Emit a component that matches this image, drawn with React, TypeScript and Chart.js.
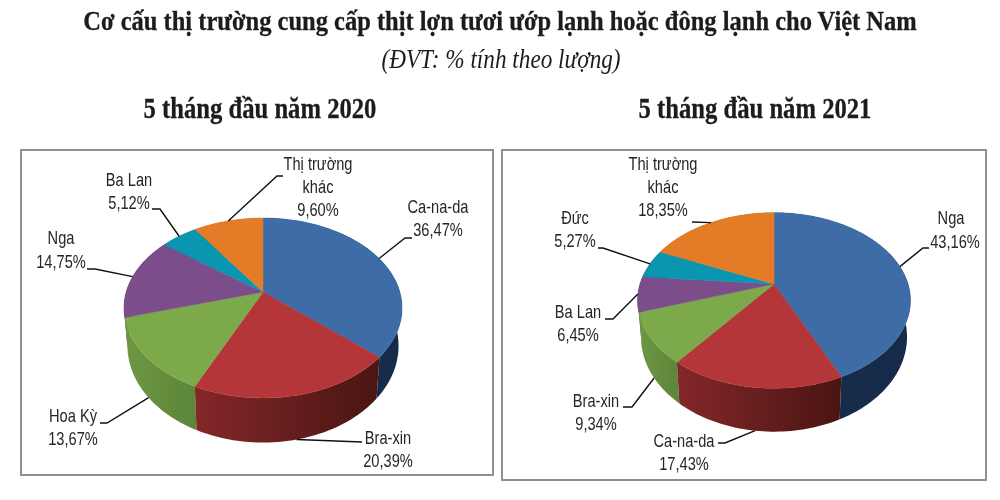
import React, { useEffect, useRef } from "react";
import { Chart, registerables } from "chart.js";

Chart.register(...registerables);

const TITLE = "Cơ cấu thị trường cung cấp thịt lợn tươi ướp lạnh hoặc đông lạnh cho Việt Nam";
const SUBTITLE = "(ĐVT: % tính theo lượng)";
const LEFT_TITLE = "5 tháng đầu năm 2020";
const RIGHT_TITLE = "5 tháng đầu năm 2021";

const categories2020 = ["Ca-na-da", "Bra-xin", "Hoa Kỳ", "Nga", "Ba Lan", "Thị trường\nkhác"];
const values2020 = [36.47, 20.39, 13.67, 14.75, 5.12, 9.6];
const categories2021 = ["Nga", "Ca-na-da", "Bra-xin", "Ba Lan", "Đức", "Thị trường\nkhác"];
const values2021 = [43.16, 17.43, 9.34, 6.45, 5.27, 18.35];

const topColors = ["#3e6ca6", "#b43639", "#7ca94a", "#7b4e8b", "#0a95b1", "#e47c27"];
const wallColors = [
  ["#162d4c", "#162b49"],
  ["#842729", "#491512"],
  ["#6e9743", "#5c8639"],
  ["#4c2f58", "#4c2f58"],
  ["#055d70", "#055d70"],
  ["#91501a", "#91501a"],
];

type Geo = { ox: number; oy: number; w: number; h: number; cx: number; cy: number; a: number; b: number; k: number; depth: number };
type Lab = { lines: [number, number][]; knee: [number, number][] };

const geo2020: Geo = { ox: 20, oy: 149, w: 474, h: 327, cx: 263, cy: 292, a: 87.1, b: 136.8, k: 0.178, depth: 36.6 };
const geo2021: Geo = { ox: 501, oy: 149, w: 486, h: 332, cx: 774, cy: 284, a: 84.7, b: 134, k: 0.188, depth: 35.2 };
const BOTTOM_TAPER = 0.975;
const TEXT_SQUEEZE = 0.77;

const layout2020: Lab[] = [
  { lines: [[438, 208], [438, 231]], knee: [[405, 238], [412, 238]] },
  { lines: [[388, 439], [388, 462]], knee: [[362, 442]] },
  { lines: [[73, 417], [73, 440]], knee: [[107, 423], [100, 423]] },
  { lines: [[61, 239], [61, 263]], knee: [[95, 269], [87, 269]] },
  { lines: [[129, 181], [129, 204]], knee: [[160, 209], [152, 209]] },
  { lines: [[318, 165], [318, 188], [318, 211]], knee: [[277, 176], [283, 176]] },
];
const layout2021: Lab[] = [
  { lines: [[951, 219], [955, 243]], knee: [[923, 248], [929, 248]] },
  { lines: [[684, 442], [684, 465]], knee: [[725, 443], [718, 443]] },
  { lines: [[596, 402], [596, 425]], knee: [[632, 407], [623, 407]] },
  { lines: [[578, 313], [578, 336]], knee: [[613, 319], [605, 319]] },
  { lines: [[575, 219], [575, 242]], knee: [[603, 248], [598, 248]] },
  { lines: [[663, 165], [663, 188], [663, 211]], knee: [[692, 222]] },
];

const fmt = (v: number) => v.toFixed(2).replace(".", ",") + "%";

function pie3d(geo: Geo, labels: string[], values: number[], layout: Lab[]) {
  const den = (ang: number) => 1 - geo.k * Math.sin(ang);
  const px = (ang: number) => geo.cx + (geo.b * Math.cos(ang)) / den(ang);
  const py = (ang: number) => geo.cy + (geo.a * Math.sin(ang)) / den(ang);
  const bx = (ang: number) => geo.cx + (px(ang) - geo.cx) * BOTTOM_TAPER;
  const by = (ang: number) => py(ang) + geo.depth / den(ang);
  return {
    id: "pie3d",
    beforeDatasetDraw(chart: any) {
      const ctx = chart.ctx;
      const arcs = chart.getDatasetMeta(0).data;
      ctx.save();
      ctx.translate(-geo.ox, -geo.oy);
      const order = arcs
        .map((_: any, i: number) => i)
        .sort((p: number, q: number) => Math.sin((arcs[p].startAngle + arcs[p].endAngle) / 2) - Math.sin((arcs[q].startAngle + arcs[q].endAngle) / 2));
      for (const i of order) {
        const { startAngle: s, endAngle: e } = arcs[i];
        const n = Math.max(4, Math.ceil((e - s) * 40));
        const angs = Array.from({ length: n + 1 }, (_, j) => s + ((e - s) * j) / n);
        const xs = angs.map(px);
        const g = ctx.createLinearGradient(Math.min(...xs), 0, Math.max(...xs), 0);
        g.addColorStop(0, wallColors[i][0]);
        g.addColorStop(1, wallColors[i][1]);
        ctx.beginPath();
        angs.forEach((t, j) => (j ? ctx.lineTo(px(t), py(t)) : ctx.moveTo(px(t), py(t))));
        [...angs].reverse().forEach((t) => ctx.lineTo(bx(t), by(t)));
        ctx.closePath();
        ctx.fillStyle = g;
        ctx.fill();
      }
      arcs.forEach((arc: any, i: number) => {
        const { startAngle: s, endAngle: e } = arc;
        const n = Math.max(4, Math.ceil((e - s) * 40));
        ctx.beginPath();
        ctx.moveTo(geo.cx, geo.cy);
        for (let j = 0; j <= n; j++) {
          const t = s + ((e - s) * j) / n;
          ctx.lineTo(px(t), py(t));
        }
        ctx.closePath();
        ctx.fillStyle = topColors[i];
        ctx.strokeStyle = topColors[i];
        ctx.lineWidth = 0.5;
        ctx.fill();
        ctx.stroke();
      });
      ctx.restore();
      return false;
    },
    afterDatasetsDraw(chart: any) {
      const ctx = chart.ctx;
      const arcs = chart.getDatasetMeta(0).data;
      ctx.save();
      ctx.translate(-geo.ox, -geo.oy);
      arcs.forEach((arc: any, i: number) => {
        const mid = (arc.startAngle + arc.endAngle) / 2;
        const L = layout[i];
        const front = Math.sin(mid) > 0.2;
        ctx.beginPath();
        ctx.moveTo(front ? bx(mid) : px(mid), front ? by(mid) : py(mid));
        L.knee.forEach(([x, y]) => ctx.lineTo(x, y));
        ctx.strokeStyle = "#111";
        ctx.lineWidth = 1.4;
        ctx.stroke();
        const text = [...labels[i].split("\n"), fmt(values[i])];
        ctx.fillStyle = "#262626";
        ctx.font = '19px "Liberation Sans", sans-serif';
        ctx.textAlign = "center";
        ctx.textBaseline = "middle";
        text.forEach((t, j) => {
          ctx.save();
          ctx.translate(L.lines[j][0], L.lines[j][1]);
          ctx.scale(TEXT_SQUEEZE, 1);
          ctx.fillText(t, 0, 0);
          ctx.restore();
        });
      });
      ctx.restore();
    },
  };
}

function PiePanel({ geo, labels, values, layout }: { geo: Geo; labels: string[]; values: number[]; layout: Lab[] }) {
  const ref = useRef<HTMLCanvasElement | null>(null);
  useEffect(() => {
    const chart = new Chart(ref.current as HTMLCanvasElement, {
      type: "pie",
      data: { labels, datasets: [{ data: values, backgroundColor: topColors, borderWidth: 0 }] },
      options: {
        responsive: false,
        animation: false,
        events: [],
        plugins: { legend: { display: false }, tooltip: { enabled: false } },
      },
      plugins: [pie3d(geo, labels, values, layout)],
    } as any);
    return () => chart.destroy();
  }, []);
  return (
    <div style={{ position: "absolute", left: geo.ox, top: geo.oy, width: geo.w, height: geo.h, boxShadow: "inset 0 0 0 2px #8f8f8f" }}>
      <canvas ref={ref} width={geo.w} height={geo.h} style={{ display: "block", width: geo.w, height: geo.h, filter: "blur(0.5px)" }} />
    </div>
  );
}

const head = (top: number, center: number, size: number, italic: boolean, text: string, sx: number) => (
  <div
    style={{
      position: "absolute",
      top,
      left: center - 500,
      width: 1000,
      textAlign: "center",
      whiteSpace: "nowrap",
      fontFamily: '"Liberation Serif", serif',
      fontWeight: italic ? 400 : 700,
      fontStyle: italic ? "italic" : "normal",
      fontSize: size,
      lineHeight: "30px",
      color: "#1c1c1c",
      transform: `scaleX(${sx})`,
      WebkitTextStroke: italic ? "0" : "0.3px #1c1c1c",
      filter: "blur(0.4px)",
    }}
  >
    {text}
  </div>
);

export default function App() {
  return (
    <div style={{ position: "absolute", left: 0, top: 0, width: 1000, height: 500, overflow: "hidden", background: "#fff" }}>
      {head(6, 500, 28, false, TITLE, 0.875)}
      {head(44, 501, 27, true, SUBTITLE, 0.86)}
      {head(93, 260, 29, false, LEFT_TITLE, 0.85)}
      {head(93, 755, 29, false, RIGHT_TITLE, 0.85)}
      <PiePanel geo={geo2020} labels={categories2020} values={values2020} layout={layout2020} />
      <PiePanel geo={geo2021} labels={categories2021} values={values2021} layout={layout2021} />
    </div>
  );
}
